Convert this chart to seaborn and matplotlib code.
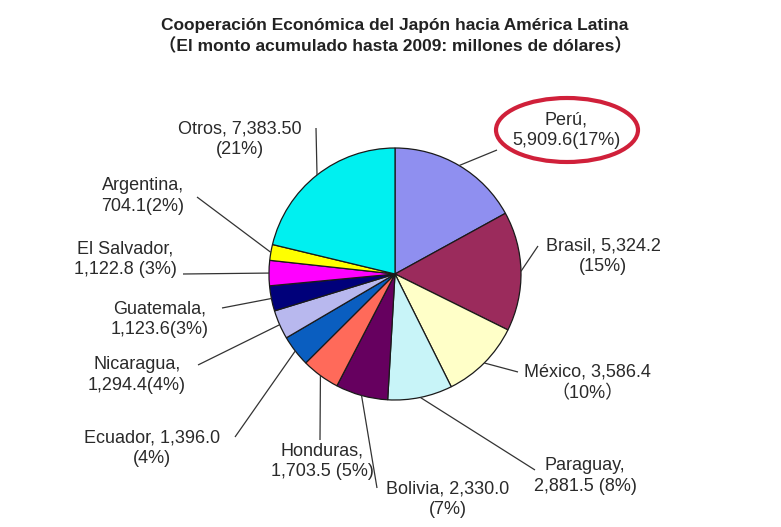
import numpy as np
import matplotlib
matplotlib.use("Agg")
import matplotlib.pyplot as plt
from matplotlib.patches import Ellipse
import seaborn as sns

# ---- data ----
countries = ["Perú", "Brasil", "México", "Paraguay", "Bolivia", "Honduras",
             "Ecuador", "Nicaragua", "Guatemala", "El Salvador", "Argentina", "Otros"]
values = [5909.6, 5324.2, 3586.4, 2881.5, 2330.0, 1703.5,
          1396.0, 1294.4, 1123.6, 1122.8, 704.1, 7383.5]
label_texts = [
    "Perú,\n5,909.6(17%)",
    "Brasil, 5,324.2\n(15%)",
    "México, 3,586.4\n（10%）",
    "Paraguay,\n2,881.5 (8%)",
    "Bolivia, 2,330.0\n(7%)",
    "Honduras,\n1,703.5 (5%)",
    "Ecuador, 1,396.0\n(4%)",
    "Nicaragua,\n1,294.4(4%)",
    "Guatemala,\n1,123.6(3%)",
    "El Salvador,\n1,122.8 (3%)",
    "Argentina,\n704.1(2%)",
    "Otros, 7,383.50\n(21%)",
]
colors = ["#8F8FF0", "#9B2B5C", "#FFFFC8", "#C8F4F8", "#66005F", "#FF6A5A",
          "#0A5EC0", "#B8B8EE", "#00007A", "#FF00FF", "#FFFF00", "#00F0F0"]
title = "Cooperación Económica del Japón hacia América Latina\n（El monto acumulado hasta 2009: millones de dólares）"

# ---- style ----
sns.set_theme(style="white")
plt.rcParams["font.family"] = ["Liberation Sans", "Noto Sans CJK JP", "DejaVu Sans"]

W, H = 781, 527
fig = plt.figure(figsize=(W / 100, H / 100), dpi=100)
fig.patch.set_facecolor("white")
ax = fig.add_axes([0, 0, 1, 1])

def Y(y):
    return H - y

cx, cy, r = 395, 274, 126
wedges, _ = ax.pie(values, colors=colors, startangle=90, counterclock=False,
                   center=(cx, Y(cy)), radius=r,
                   wedgeprops=dict(edgecolor="#1a1a1a", linewidth=0.9))
ax.set_xlim(0, W)
ax.set_ylim(0, H)
ax.set_aspect("equal")
ax.axis("off")

txtcol = "#2a2a2a"
# label block centers and leader start points (pixel layout)
label_pos = [(566, 130), (603, 256), (587, 383), (585, 476), (448, 499), (322, 461),
             (152, 448), (137, 375), (160, 319), (125, 259), (143, 196), (240, 139)]
leader_start = [(497, 150), (538, 246), (518, 372), (535, 470), (377, 488), (320, 440),
                (235, 437), (198, 365), (222, 308), (183, 274), (197, 197), (316, 128)]

for w, txt, (lx, ly), (sx, sy) in zip(wedges, label_texts, label_pos, leader_start):
    ang = np.deg2rad((w.theta1 + w.theta2) / 2)
    ex = cx + r * np.cos(ang)
    ey = Y(cy) + r * np.sin(ang)
    ax.text(lx, Y(ly), txt, ha="center", va="center", fontsize=13,
            color=txtcol, linespacing=1.3)
    ax.plot([sx, ex], [Y(sy), ey], color="#333333", lw=0.9, solid_capstyle="butt")

# highlight ellipse around Perú
ax.add_patch(Ellipse((567, Y(130)), 142, 64, fill=False, edgecolor="#D0203A", lw=3))

fig.text(0.506, 1 - 36 / H, title, ha="center", va="center", fontsize=12.5,
         fontweight="bold", color="#222222", linespacing=1.3)

fig.savefig("out.png", dpi=100, facecolor="white")
